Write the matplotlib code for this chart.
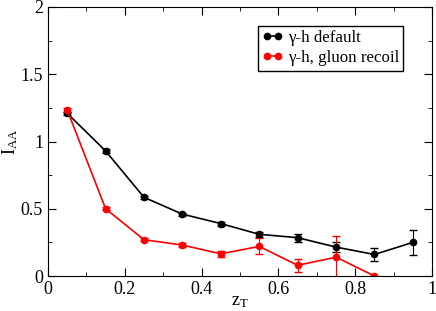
import matplotlib
matplotlib.use('Agg')
import matplotlib.pyplot as plt
from matplotlib.lines import Line2D

plt.rcParams['font.family'] = 'Liberation Serif'
plt.rcParams['mathtext.fontset'] = 'custom'
plt.rcParams['mathtext.rm'] = 'Liberation Serif'
plt.rcParams['mathtext.it'] = 'Liberation Serif'

zt = [0.05, 0.15, 0.25, 0.35, 0.45, 0.55, 0.65, 0.75, 0.85, 0.95]
iaa_default = [1.21, 0.93, 0.585, 0.46, 0.39, 0.31, 0.285, 0.215, 0.16, 0.25]
err_default = [0.012, 0.012, 0.012, 0.012, 0.015, 0.02, 0.03, 0.04, 0.045, 0.095]

zt_recoil = [0.05, 0.15, 0.25, 0.35, 0.45, 0.55, 0.65, 0.75, 0.85]
iaa_recoil = [1.235, 0.50, 0.27, 0.23, 0.165, 0.22, 0.08, 0.14, 0.0]
err_recoil = [0.012, 0.01, 0.012, 0.015, 0.02, 0.06, 0.05, 0.16, 0.0]

xticks = [0, 0.2, 0.4, 0.6, 0.8, 1]
xtick_labels = ['0', '0.2', '0.4', '0.6', '0.8', '1']
yticks = [0, 0.5, 1, 1.5, 2]
ytick_labels = ['0', '0.5', '1', '1.5', '2']

fig = plt.figure(figsize=(4.36, 3.11), dpi=100)
ax = fig.add_axes([0.110, 0.1125, 0.881, 0.865])

ax.errorbar(zt, iaa_default, yerr=err_default, color='black', marker='o',
            markersize=4.5, linewidth=1.2, capsize=3, elinewidth=0.8)
ax.errorbar(zt_recoil, iaa_recoil, yerr=err_recoil, color='red', marker='o',
            markersize=4.5, linewidth=1.2, capsize=3, elinewidth=0.8)

ax.set_xlim(0, 1)
ax.set_ylim(0, 2)
ax.set_xticks(xticks)
ax.set_xticklabels(xtick_labels)
ax.set_xticks([0.1, 0.3, 0.5, 0.7, 0.9], minor=True)
ax.set_yticks(yticks)
ax.set_yticklabels(ytick_labels)
ax.set_yticks([0.25, 0.75, 1.25, 1.75], minor=True)
ax.tick_params(which='both', direction='in', top=True, right=True, labelsize=13)
ax.tick_params(which='major', length=6)
ax.tick_params(which='minor', length=3)

ax.set_xlabel(r'z$_\mathrm{T}$', fontsize=13, labelpad=0)
ax.xaxis.set_label_coords(0.5, -0.065)
ax.set_ylabel(r'I$_\mathrm{AA}$', fontsize=13)
ax.yaxis.set_label_coords(-0.072, 0.5)

handles = [
    Line2D([0, 1], [0, 0], color='black', marker='o', markersize=4.5, linewidth=1.2),
    Line2D([0, 1], [0, 0], color='red', marker='o', markersize=4.5, linewidth=1.2),
]
ax.legend(handles, ['γ-h default', 'γ-h, gluon recoil'], loc='upper right',
          bbox_to_anchor=(0.925, 0.93), fontsize=12.2, numpoints=2,
          frameon=True, fancybox=False, edgecolor='black', framealpha=1,
          handlelength=1.2, handletextpad=0.3, borderpad=0.25, labelspacing=0.25,
          borderaxespad=0)

fig.savefig('out.png', dpi=100)
